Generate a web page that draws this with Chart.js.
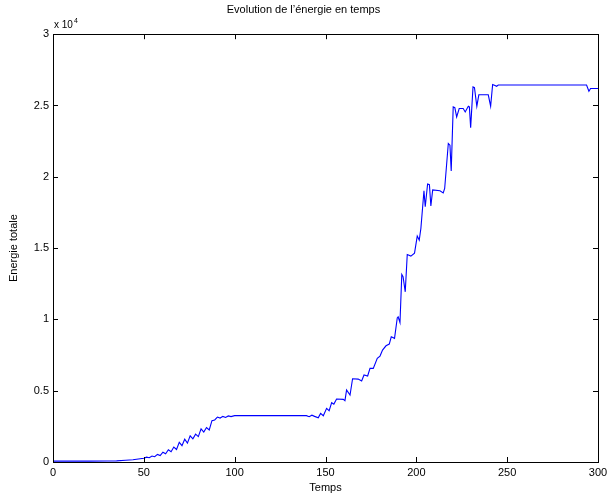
<!DOCTYPE html>
<html>
<head>
<meta charset="utf-8">
<script src="https://cdn.jsdelivr.net/npm/chart.js@4.4.1/dist/chart.umd.min.js"></script>
<style>
  html, body { margin: 0; padding: 0; background: #fff; }
  #wrap { width: 607px; height: 497px; }
</style>
</head>
<body>
<div id="wrap"><canvas id="grafico"></canvas></div>
<script>
// Datos
const temps = [0, 10, 20, 30, 35, 40, 44, 47, 50, 51.5, 53, 54.5, 56, 57.5, 59, 60.5, 62, 63.5, 65, 66.5, 68, 69.5, 71, 72.5, 74, 75.5, 77, 78.5, 80, 81.5, 83, 84.5, 86, 87.5, 89, 90.5, 92, 93.5, 95, 96.5, 98, 100,
  139.5, 141, 142.5, 144, 146, 147.3, 148.8, 150.6, 152, 153.4, 154.6, 156.1, 159.8, 160.7, 161.6, 163.5, 164.9, 168, 169.9, 171.2, 173.2, 174.5, 176.3, 178.5, 180, 181.4, 183.3, 185.1, 186.2, 188, 189.5, 190, 191,
  192, 192.7, 193.9, 195, 197, 199, 200.5, 201.6, 202.5, 204.2, 204.9, 206.2, 207.2, 208, 209, 213, 214.8, 215.6, 217.6, 218.5, 219.2, 220.3, 221.2, 222.2, 223.6, 225.8, 226.9, 228.6, 229.2, 229.9,
  231.2, 232, 233.3, 234.4, 239.6, 240.9, 242, 243, 244.2, 245.1, 293.7, 295, 295.9, 300];
const energie = [60, 60, 60, 70, 80, 120, 160, 210, 260, 340, 300, 420, 370, 530, 450, 690, 580, 860, 720, 1050, 880, 1380, 1150, 1600, 1320, 1830, 1620, 1950, 1780, 2330, 2100, 2420, 2250, 2900, 2950, 3150, 3080, 3200, 3120, 3230, 3180, 3250,
  3250, 3180, 3280, 3200, 3100, 3410, 3245, 3760, 3600, 4160, 4060, 4415, 4390, 4300, 5045, 4695, 5840, 5815, 5675, 6100, 6030, 6565, 6565, 7265, 7430, 7850, 8150, 8270, 8780, 8670, 10100, 10180, 9780,
  13150, 13000, 11935, 14550, 14440, 14650, 15840, 15560, 16375, 19010, 17900, 19500, 19450, 17950, 19080, 19020, 18870, 19180, 22335, 22215, 20415, 24900, 24850, 24200, 24790, 24790, 24550, 24950, 24900, 23450,
  26300, 26250, 24950, 25750, 25750, 24950, 26470, 26420, 26350, 26440, 26440, 26000, 26190, 26190];
const ticksX = [0, 50, 100, 150, 200, 250, 300];
const ticksY = [0, 5000, 10000, 15000, 20000, 25000, 30000];

const fuente = 'Liberation Sans, Arial, Helvetica, sans-serif';
Chart.defaults.font.family = fuente;
Chart.defaults.color = '#000';

// Plugin: caja estilo MATLAB con marcas interiores y "x 10^4"
const cajaMatlab = {
  id: 'cajaMatlab',
  afterDraw(chart) {
    const { ctx, chartArea: a, scales: { x, y } } = chart;
    ctx.save();
    ctx.strokeStyle = '#000';
    ctx.lineWidth = 1;
    const L = 5;
    ctx.beginPath();
    ticksX.forEach(v => {
      const px = Math.round(x.getPixelForValue(v)) + 0.5;
      ctx.moveTo(px, a.bottom); ctx.lineTo(px, a.bottom - L);
      ctx.moveTo(px, a.top); ctx.lineTo(px, a.top + L);
    });
    ticksY.forEach(v => {
      const py = Math.round(y.getPixelForValue(v)) + 0.5;
      ctx.moveTo(a.left, py); ctx.lineTo(a.left + L, py);
      ctx.moveTo(a.right, py); ctx.lineTo(a.right - L, py);
    });
    ctx.stroke();
    ctx.strokeRect(Math.round(a.left) + 0.5, Math.round(a.top) + 0.5, Math.round(a.right - a.left), Math.round(a.bottom - a.top));
    ctx.fillStyle = '#000';
    ctx.textBaseline = 'alphabetic';
    ctx.font = '10px ' + fuente;
    ctx.fillText('x 10', a.left + 1, a.top - 6);
    const w = ctx.measureText('x 10').width;
    ctx.font = '7px ' + fuente;
    ctx.fillText('4', a.left + 1 + w + 1, a.top - 11);
    ctx.restore();
  }
};

const crearGrafico = () => {
  const data = {
    datasets: [{
      label: 'Energie totale',
      data: temps.map((t, i) => ({ x: t, y: energie[i] })),
      borderColor: '#0000ff',
      borderWidth: 1.1,
      pointRadius: 0,
      tension: 0,
      fill: false
    }]
  };
  const config = {
    type: 'line',
    data: data,
    options: {
      responsive: false,
      animation: false,
      layout: { padding: { left: 0, right: 0, top: 0, bottom: 0 } },
      plugins: {
        legend: { display: false },
        tooltip: { enabled: false },
        title: {
          display: true,
          text: 'Evolution de l\u2019énergie en temps',
          font: { size: 11, weight: 'normal' },
          color: '#000',
          padding: { top: 3, bottom: 18 }
        }
      },
      scales: {
        x: {
          type: 'linear',
          min: 0, max: 300,
          afterBuildTicks: s => { s.ticks = ticksX.map(v => ({ value: v })); },
          afterFit: s => { s.height = 35; s.paddingRight = 9; },
          grid: { display: false, drawTicks: false },
          border: { display: false },
          ticks: { font: { size: 11 }, color: '#000', padding: 4, maxRotation: 0 },
          title: { display: true, text: 'Temps', font: { size: 11 }, color: '#000', padding: { top: 0, bottom: 2 } }
        },
        y: {
          type: 'linear',
          min: 0, max: 30000,
          afterBuildTicks: s => { s.ticks = ticksY.map(v => ({ value: v })); },
          afterFit: s => { s.width = 53; },
          grid: { display: false, drawTicks: false },
          border: { display: false },
          ticks: { font: { size: 11 }, color: '#000', padding: 4, callback: v => String(v / 10000) },
          title: { display: true, text: 'Energie totale', font: { size: 11 }, color: '#000', padding: { top: 7, bottom: 0 } }
        }
      }
    },
    plugins: [cajaMatlab]
  };
  const canvas = document.querySelector('#grafico');
  canvas.width = 607; canvas.height = 497;
  new Chart(canvas.getContext('2d'), config);
};

crearGrafico();
</script>
</body>
</html>
